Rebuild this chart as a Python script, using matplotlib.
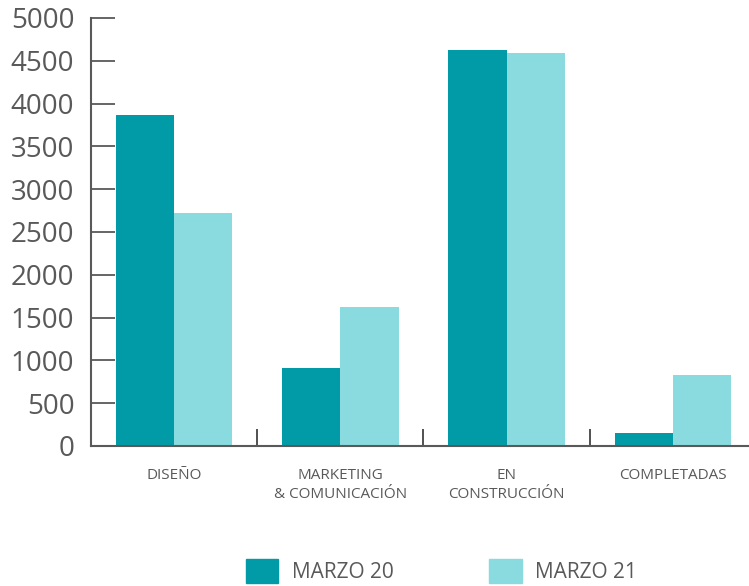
import numpy as np
import matplotlib
matplotlib.use("Agg")
import matplotlib.pyplot as plt
from matplotlib.patches import Patch

categories = ["DISEÑO", "MARKETING\n& COMUNICACIÓN", "EN\nCONSTRUCCIÓN", "COMPLETADAS"]
marzo_20 = [3870, 910, 4630, 150]
marzo_21 = [2720, 1620, 4590, 830]
series_names = ["MARZO 20", "MARZO 21"]
yticks = [0, 500, 1000, 1500, 2000, 2500, 3000, 3500, 4000, 4500, 5000]

dark = "#009ba6"
light = "#89dbdf"
grey = "#595959"

plt.rcParams["font.family"] = ["Open Sans", "DejaVu Sans"]

fig = plt.figure(figsize=(7.49, 5.86), dpi=100)
ax = fig.add_axes([91 / 749, 1 - 446 / 586, 665 / 749, 428 / 586])

x = np.arange(len(categories))
w = 0.35
ax.bar(x - w / 2, marzo_20, w, color=dark)
ax.bar(x + w / 2, marzo_21, w, color=light)

ax.set_xlim(-0.5, 3.5)
ax.set_ylim(0, 5000)
ax.set_yticks(yticks)
ax.tick_params(axis="y", direction="in", length=17, width=1.3, color=grey,
               labelsize=20, labelcolor=grey, pad=12)

ax.set_xticks(x)
ax.set_xticklabels(categories)
ax.set_xticks(x[:-1] + 0.5, minor=True)
ax.tick_params(axis="x", which="major", length=0, pad=16, labelsize=11, labelcolor=grey)
ax.tick_params(axis="x", which="minor", direction="in", length=12, width=1.2, color="#333333")
for lbl in ax.get_xticklabels():
    lbl.set_linespacing(1.35)
    lbl.set_va("top")

for s in ["top", "right"]:
    ax.spines[s].set_visible(False)
ax.spines["left"].set_color(grey)
ax.spines["left"].set_linewidth(1.5)
ax.spines["bottom"].set_color(grey)
ax.spines["bottom"].set_linewidth(1.5)

handles = [Patch(color=dark), Patch(color=light)]
leg = fig.legend(handles, series_names, loc="upper left",
                 bbox_to_anchor=(246 / 749, 1 - 559 / 586), ncol=2, frameon=False,
                 fontsize=15, handlelength=1.55, handleheight=1.4, handletextpad=0.65,
                 columnspacing=4.6, borderpad=0, borderaxespad=0)
for t in leg.get_texts():
    t.set_color(grey)

fig.savefig("out.png", dpi=100)
